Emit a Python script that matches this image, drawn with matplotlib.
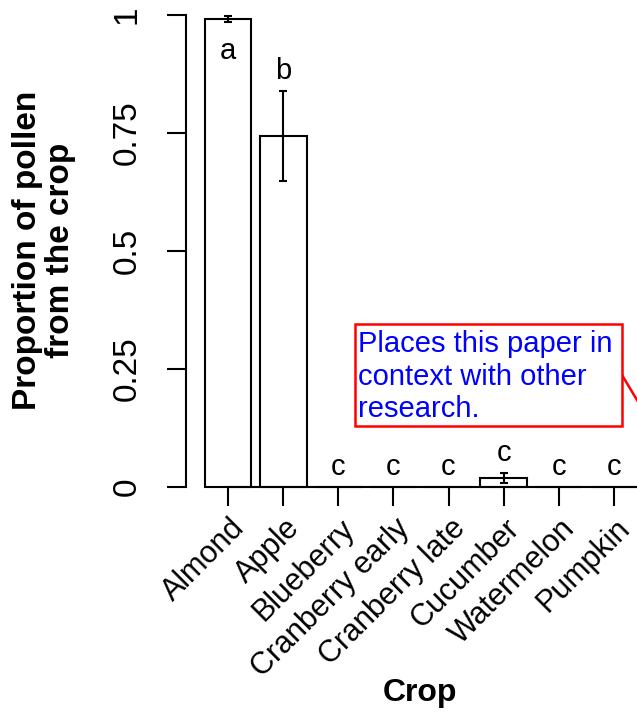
import matplotlib
matplotlib.use("Agg")
import matplotlib.pyplot as plt
import matplotlib.transforms as mtransforms
from matplotlib.patches import Rectangle
from matplotlib.lines import Line2D

plt.rcParams["font.family"] = ["Liberation Sans", "DejaVu Sans"]

# values
crops = ["Almond", "Apple", "Blueberry", "Cranberry early", "Cranberry late",
         "Cucumber", "Watermelon", "Pumpkin"]
proportion = [0.992, 0.744, 0.0, 0.0, 0.0, 0.020, 0.0, 0.0]
err_low = [0.986, 0.648, 0.0, 0.0, 0.0, 0.008, 0.0, 0.0]
err_high = [0.997, 0.839, 0.0, 0.0, 0.0, 0.029, 0.0, 0.0]
letters = ["a", "b", "c", "c", "c", "c", "c", "c"]
y_ticks = [0, 0.25, 0.5, 0.75, 1]
y_ticklabels = ["0", "0.25", "0.5", "0.75", "1"]
note = "Places this paper in\ncontext with other\nresearch."

W, H = 637, 713
fig = plt.figure(figsize=(W / 100, H / 100), dpi=100)


def fx(px):
    return px / W


def fy(py):
    return 1 - py / H


# axes: y axis at x=186, y=0 at 487 px, y=1 at 15 px
ax = fig.add_axes([fx(186), fy(487), fx(637) - fx(186), fy(15) - fy(487)])
x = list(range(len(crops)))
ax.bar(x, proportion, width=0.85, color="white", edgecolor="black",
       linewidth=1.5, zorder=2, clip_on=False)

for xi, v, lo, hi in zip(x, proportion, err_low, err_high):
    if hi > lo:
        ax.errorbar(xi, v, yerr=[[v - lo], [hi - v]], fmt="none",
                    ecolor="black", elinewidth=1.5, capsize=3, capthick=1.5,
                    zorder=3, clip_on=False)

for xi, hi, lab in zip(x, err_high, letters):
    ax.text(xi, min(hi + 0.049, 0.93), lab, ha="center", va="center_baseline",
            fontsize=21, zorder=4)

ax.set_xlim(-0.762, 7.418)
ax.set_ylim(0, 1)

for s in ["top", "right"]:
    ax.spines[s].set_visible(False)
ax.spines["left"].set_bounds(0, 1)
ax.spines["bottom"].set_bounds(0, 7.418)
for s in ["left", "bottom"]:
    ax.spines[s].set_linewidth(1.5)

ax.set_yticks(y_ticks)
ax.set_yticklabels(y_ticklabels, rotation=90, va="center")
ax.tick_params(axis="y", length=13.5, width=1.5, labelsize=24, pad=18)

ax.set_xticks(x)
ax.set_xticklabels(crops, rotation=45, ha="right", va="center",
                   rotation_mode="anchor")
ax.tick_params(axis="x", length=13.5, width=1.5, labelsize=22, pad=13)
offset = mtransforms.ScaledTranslation(12 / 100, 0, fig.dpi_scale_trans)
for lab in ax.get_xticklabels():
    lab.set_transform(lab.get_transform() + offset)

fig.text(fx(44), fy(250), "Proportion of pollen\nfrom the crop", rotation=90,
         ha="center", va="center", fontsize=24, fontweight="bold",
         linespacing=1.1)
fig.text(fx(420), fy(693), "Crop", ha="center", va="center", fontsize=23,
         fontweight="bold")

# comment box pasted over the figure
fig.patches.append(Rectangle((fx(355), fy(426)), fx(622) - fx(355),
                             fy(324) - fy(426), transform=fig.transFigure,
                             facecolor="white", edgecolor="red", linewidth=1.8,
                             zorder=5))
fig.text(fx(358), fy(330), note, ha="left", va="top", color="#0000ff",
         fontsize=21, linespacing=1.21, zorder=6)
fig.lines.append(Line2D([fx(622), fx(652)], [fy(375), fy(425)],
                        transform=fig.transFigure, color="red", linewidth=1.8,
                        zorder=5))

fig.savefig("out.png", dpi=100)
